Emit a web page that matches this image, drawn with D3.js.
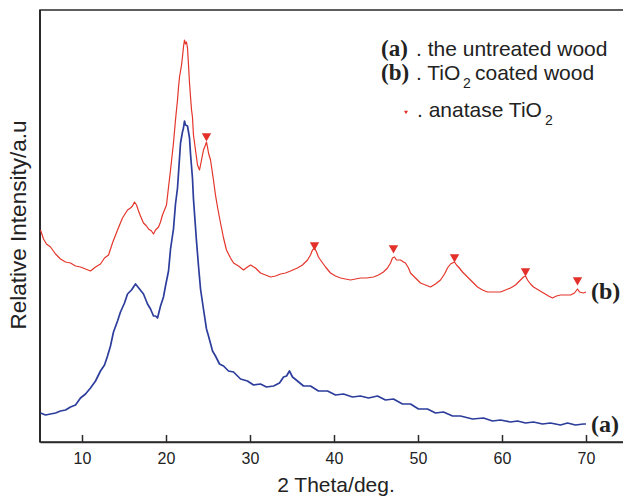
<!DOCTYPE html>
<html>
<head>
<meta charset="utf-8">
<script src="https://cdn.jsdelivr.net/npm/d3@7"></script>
<style>
    body { margin: 0; background: #fff; }
    svg { display: block; font-family: 'Liberation Sans', Arial, sans-serif; }
    .serif { font-family: 'Liberation Serif', 'Times New Roman', serif; font-weight: bold; }
</style>
</head>
<body>
<svg id="chart"></svg>
<script>

// 2 theta (deg) and intensity (a.u.)
const thetaA = [5.06, 5.66, 6.25, 6.85, 7.44, 8.04, 8.63, 9.23, 9.82, 10.42, 11.01, 11.61, 12.20, 12.68,
    13.04, 13.39, 13.75, 14.23, 14.58, 15.06, 15.42, 15.89, 16.37, 16.85, 17.32, 17.80, 18.16, 18.51,
    18.75, 18.99, 19.35, 19.70, 19.94, 20.30, 20.54, 20.89, 21.13, 21.37, 21.73, 21.96, 22.08, 22.20,
    22.32, 22.56, 22.80, 22.92, 23.15, 23.27, 23.63, 23.87, 24.11, 24.46, 24.82, 25.06, 25.54, 25.89,
    26.37, 26.85, 27.44, 28.04, 28.87, 29.70, 30.42, 31.25, 31.96, 32.80, 33.51, 33.99, 34.35, 34.70,
    35.06, 35.65, 36.37, 37.20, 38.15, 39.23, 40.18, 41.13, 42.20, 43.15, 44.11, 45.18, 46.13, 47.08,
    48.15, 49.11, 50.06, 51.13, 52.08, 53.04, 54.11, 55.06, 56.49, 57.80, 58.87, 59.82, 61.01, 61.85,
    62.80, 63.75, 64.82, 65.77, 66.96, 67.80, 68.75, 69.70, 70.00];
const intensityA = [29, 27, 28, 29, 31, 32, 35, 37, 44, 48, 54, 61, 71, 77,
    86, 96, 110, 121, 130, 139, 148, 152, 158, 153, 148, 138, 133, 126,
    126, 124, 136, 145, 156, 171, 193, 213, 238, 254, 299, 310, 314, 321,
    317, 316, 304, 288, 264, 243, 201, 176, 153, 133, 113, 106, 91, 86,
    78, 76, 71, 70, 63, 61, 57, 58, 55, 56, 59, 65, 66, 71,
    65, 61, 56, 56, 51, 51, 47, 48, 45, 46, 44, 46, 42, 43,
    38, 38, 33, 33, 29, 30, 26, 26, 23, 24, 21, 22, 20, 21,
    19, 20, 18, 19, 17, 19, 17, 18, 18];

const thetaB = [5.06, 5.42, 5.77, 6.25, 6.85, 7.44, 8.04, 8.63, 9.23, 9.82, 10.42, 11.01, 11.61, 12.20,
    12.68, 13.16, 13.63, 14.23, 14.82, 15.42, 15.77, 16.01, 16.25, 16.49, 16.73, 16.96, 17.32, 17.68,
    17.92, 18.27, 18.51, 18.75, 19.11, 19.35, 19.58, 19.82, 20.06, 20.30, 20.54, 20.89, 21.13, 21.37,
    21.49, 21.61, 21.85, 21.96, 22.08, 22.20, 22.32, 22.44, 22.56, 22.68, 22.80, 22.92, 23.04, 23.15,
    23.27, 23.51, 23.75, 23.99, 24.23, 24.46, 24.70, 24.82, 24.94, 25.06, 25.30, 25.65, 25.89, 26.13,
    26.49, 26.85, 27.20, 27.68, 28.04, 28.63, 29.23, 29.70, 30.06, 30.65, 31.25, 31.85, 32.44, 33.04,
    33.63, 34.23, 34.82, 35.65, 36.25, 36.85, 37.20, 37.44, 37.68, 37.92, 38.15, 38.39, 38.99, 39.58,
    40.18, 40.77, 41.37, 41.96, 42.56, 43.15, 43.87, 44.70, 45.30, 45.89, 46.37, 46.73, 46.96, 47.20,
    47.44, 47.92, 48.27, 48.51, 48.87, 49.11, 49.70, 50.30, 50.89, 51.49, 52.08, 52.68, 53.16, 53.51,
    53.87, 54.11, 54.35, 54.58, 54.82, 55.30, 55.89, 56.49, 57.08, 57.68, 58.27, 58.99, 59.82, 60.42,
    61.01, 61.61, 62.20, 62.56, 62.80, 63.04, 63.39, 63.75, 64.35, 64.94, 65.54, 66.01, 66.49, 66.96,
    67.56, 68.16, 68.63, 68.99, 69.23, 69.70, 70.00];
const intensityB = [212, 203, 198, 195, 188, 183, 180, 179, 176, 175, 173, 171, 175, 178,
    184, 187, 199, 212, 224, 232, 234, 236, 240, 237, 231, 226, 219, 216,
    213, 211, 208, 212, 215, 220, 227, 232, 237, 255, 272, 299, 322, 342,
    355, 365, 377, 385, 395, 402, 398, 400, 394, 377, 359, 345, 332, 325,
    307, 292, 277, 272, 282, 292, 297, 300, 295, 289, 282, 262, 247, 235,
    219, 204, 192, 184, 179, 176, 172, 175, 177, 174, 169, 167, 165, 166,
    168, 169, 171, 174, 177, 182, 187, 192, 194, 190, 185, 182, 175, 169,
    166, 164, 163, 162, 163, 164, 164, 165, 167, 170, 174, 179, 184, 185,
    182, 182, 180, 179, 174, 169, 164, 159, 157, 155, 158, 162, 168, 174,
    178, 179, 180, 177, 175, 170, 165, 160, 155, 152, 150, 150, 150, 152,
    154, 157, 162, 165, 166, 162, 158, 155, 152, 149, 146, 144, 146, 147,
    147, 147, 149, 153, 150, 149, 150];

// anatase TiO2 reflections marked on curve (b)
const anataseTheta = [24.82, 37.68, 47.08, 54.35, 62.80, 68.99];
const anataseMark = [306, 197, 194, 185, 171, 162];

const xTicks = [10, 20, 30, 40, 50, 60, 70];

const redColor = '#e4352b';
const blueColor = '#2c3d9c';

class xrdChart {

    constructor(_config) {
        this.config = {
            parentElement: _config.parentElement,
            containerWidth: 623,
            containerHeight: 496,
            margin: { top: 10, left: 40 }
        }
        this.initVis();
    }

    initVis() {
        let vis = this;

        vis.width = 588;   // 5..75 deg, right edge falls outside the picture
        vis.height = 432;

        vis.xScale = d3.scaleLinear()
            .domain([5, 75])
            .range([0, vis.width]);

        vis.yScale = d3.scaleLinear()
            .domain([0, 432])
            .range([vis.height, 0]);

        vis.xAxis = d3.axisBottom(vis.xScale)
            .tickValues(xTicks)
            .tickSize(-7)
            .tickSizeOuter(0)
            .tickPadding(11);

        vis.svg = d3.select(vis.config.parentElement)
            .attr('width', vis.config.containerWidth)
            .attr('height', vis.config.containerHeight);

        vis.chart = vis.svg.append('g')
            .attr('transform', `translate(${vis.config.margin.left},${vis.config.margin.top})`);

        // frame (top / left)
        vis.chart.append('rect')
            .attr('width', vis.width)
            .attr('height', vis.height)
            .attr('fill', 'none')
            .attr('stroke', '#2a2a2a')
            .attr('stroke-width', 1.5);

        vis.chart.append('line')
            .attr('x1', 0).attr('x2', 0)
            .attr('y1', 0).attr('y2', vis.height)
            .attr('stroke', '#2a2a2a')
            .attr('stroke-width', 2);

        vis.xAxisG = vis.chart.append('g')
            .attr('transform', `translate(0,${vis.height})`);

        // axis titles
        vis.svg.append('text')
            .attr('x', 336)
            .attr('y', 492)
            .attr('text-anchor', 'middle')
            .attr('font-size', 21)
            .attr('fill', '#222')
            .text('2 Theta/deg.');

        vis.svg.append('text')
            .attr('transform', 'translate(26,225) rotate(-90)')
            .attr('text-anchor', 'middle')
            .attr('font-size', 22.5)
            .attr('fill', '#222')
            .text('Relative Intensity/a.u');

        vis.renderVis();
    }

    renderVis() {
        let vis = this;

        vis.line = d3.line()
            .x(d => vis.xScale(d[0]))
            .y(d => vis.yScale(d[1]));

        const seriesA = d3.zip(thetaA, intensityA);
        const seriesB = d3.zip(thetaB, intensityB);

        vis.chart.append('path')
            .datum(seriesB)
            .attr('fill', 'none')
            .attr('stroke', redColor)
            .attr('stroke-width', 1.2)
            .attr('stroke-linejoin', 'round')
            .attr('d', vis.line);

        vis.chart.append('path')
            .datum(seriesA)
            .attr('fill', 'none')
            .attr('stroke', blueColor)
            .attr('stroke-width', 1.7)
            .attr('stroke-linejoin', 'round')
            .attr('d', vis.line);

        // anatase markers
        vis.chart.selectAll('.marker')
            .data(d3.zip(anataseTheta, anataseMark))
            .join('path')
            .attr('class', 'marker')
            .attr('d', d3.symbol(d3.symbolTriangle, 38))
            .attr('fill', '#e3302a')
            .attr('transform', d => `translate(${vis.xScale(d[0])},${vis.yScale(d[1])}) rotate(180)`);

        vis.xAxisG.call(vis.xAxis);
        vis.xAxisG.select('.domain').attr('stroke', '#2a2a2a').attr('stroke-width', 1.5);
        vis.xAxisG.selectAll('.tick line').attr('stroke', '#2a2a2a').attr('stroke-width', 1.5);
        vis.xAxisG.selectAll('.tick text')
            .attr('font-size', 16)
            .attr('font-family', "'Liberation Sans', Arial, sans-serif")
            .attr('fill', '#222');

        // curve labels on the right
        vis.svg.append('text').attr('class', 'serif')
            .attr('x', 591).attr('y', 299)
            .attr('font-size', 24).attr('fill', '#222')
            .text('(b)');
        vis.svg.append('text').attr('class', 'serif')
            .attr('x', 591).attr('y', 432)
            .attr('font-size', 24).attr('fill', '#222')
            .text('(a)');

        // legend
        const lg = vis.svg.append('g').attr('fill', '#222');
        lg.append('text').attr('class', 'serif')
            .attr('x', 381).attr('y', 56).attr('font-size', 23).text('(a)');
        lg.append('text')
            .attr('x', 416).attr('y', 56).attr('font-size', 21).text('. the untreated wood');

        lg.append('text').attr('class', 'serif')
            .attr('x', 381).attr('y', 80).attr('font-size', 23).text('(b)');
        const tb = lg.append('text').attr('x', 416).attr('y', 80).attr('font-size', 21);
        tb.append('tspan').text('. TiO');
        tb.append('tspan').attr('x', 463).attr('y', 88).attr('font-size', 14).text('2');
        tb.append('tspan').attr('x', 475).attr('y', 80).text('coated wood');

        lg.append('path')
            .attr('d', d3.symbol(d3.symbolTriangle, 7))
            .attr('fill', '#e3302a')
            .attr('transform', 'translate(406,112) rotate(180)');
        const tc = lg.append('text').attr('x', 417).attr('y', 117).attr('font-size', 21);
        tc.append('tspan').text('. anatase TiO');
        tc.append('tspan').attr('x', 545).attr('y', 125).attr('font-size', 14).text('2');
    }
}

new xrdChart({ parentElement: '#chart' });

</script>
</body>
</html>
